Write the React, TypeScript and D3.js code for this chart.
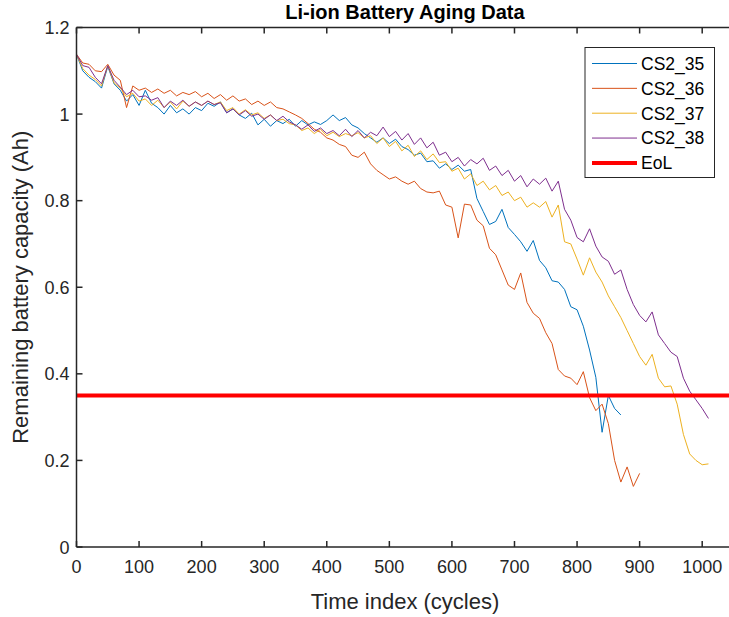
import React from 'react';
import * as d3 from 'd3';

const STEP = 10; // cycles between stored samples

const CS2_35 = [
  1.138, 1.100, 1.085, 1.075, 1.060, 1.110, 1.070, 1.055, 1.030, 1.045,
  1.020, 1.055, 1.025, 1.015, 1.000, 1.020, 1.003, 1.012, 1.000, 1.015,
  1.008, 1.025, 1.018, 1.028, 1.003, 1.012, 0.998, 0.990, 1.002, 0.975,
  0.988, 0.972, 0.985, 0.978, 0.988, 0.972, 0.985, 0.975, 0.982, 0.976,
  0.985, 0.998, 0.985, 0.992, 0.975, 0.968, 0.955, 0.945, 0.935, 0.945,
  0.932, 0.942, 0.925, 0.918, 0.905, 0.910, 0.890, 0.892, 0.875, 0.885,
  0.872, 0.882, 0.868, 0.872, 0.805, 0.775, 0.745, 0.752, 0.780, 0.738,
  0.722, 0.705, 0.683, 0.708, 0.662, 0.645, 0.615, 0.612, 0.595, 0.555,
  0.548, 0.510, 0.455, 0.392, 0.265, 0.350, 0.320, 0.305,
];

const CS2_36 = [
  1.138, 1.118, 1.115, 1.100, 1.098, 1.115, 1.090, 1.078, 1.015, 1.065,
  1.055, 1.060, 1.050, 1.058, 1.048, 1.055, 1.042, 1.050, 1.045, 1.052,
  1.040, 1.048, 1.036, 1.045, 1.032, 1.042, 1.030, 1.035, 1.022, 1.030,
  1.020, 1.028, 1.015, 1.012, 1.005, 0.998, 0.990, 0.978, 0.965, 0.958,
  0.945, 0.940, 0.930, 0.925, 0.905, 0.900, 0.912, 0.885, 0.870, 0.860,
  0.850, 0.855, 0.845, 0.838, 0.845, 0.828, 0.820, 0.818, 0.822, 0.790,
  0.785, 0.714, 0.792, 0.790, 0.755, 0.742, 0.690, 0.675, 0.640, 0.605,
  0.595, 0.633, 0.565, 0.540, 0.528, 0.495, 0.470, 0.410, 0.395, 0.390,
  0.375, 0.405, 0.345, 0.315, 0.330, 0.285, 0.200, 0.150, 0.185, 0.140,
  0.170,
];

const CS2_37 = [
  1.138, 1.105, 1.090, 1.080, 1.065, 1.112, 1.072, 1.060, 1.040, 1.048,
  1.030, 1.035, 1.020, 1.032, 1.015, 1.028, 1.012, 1.030, 1.018, 1.028,
  1.020, 1.030, 1.022, 1.028, 1.008, 1.015, 1.000, 1.010, 0.998, 1.003,
  0.990, 0.998, 0.985, 0.988, 0.978, 0.975, 0.962, 0.968, 0.955, 0.965,
  0.950, 0.958, 0.948, 0.955, 0.950, 0.957, 0.945, 0.950, 0.932, 0.945,
  0.925, 0.937, 0.915, 0.928, 0.902, 0.915, 0.895, 0.908, 0.888, 0.890,
  0.868, 0.875, 0.850, 0.862, 0.835, 0.845, 0.825, 0.835, 0.812, 0.820,
  0.800, 0.808, 0.785, 0.795, 0.785, 0.798, 0.762, 0.790, 0.705, 0.700,
  0.665, 0.628, 0.668, 0.635, 0.612, 0.580, 0.555, 0.530, 0.500, 0.470,
  0.440, 0.420, 0.445, 0.390, 0.370, 0.372, 0.330, 0.260, 0.215, 0.200,
  0.190, 0.192,
];

const CS2_38 = [
  1.138, 1.112, 1.108, 1.085, 1.070, 1.112, 1.078, 1.062, 1.045, 1.055,
  1.040, 1.042, 1.032, 1.038, 1.015, 1.030, 1.020, 1.032, 1.018, 1.028,
  1.020, 1.030, 1.022, 1.026, 1.003, 1.012, 0.998, 1.008, 0.995, 1.000,
  0.988, 0.998, 0.985, 0.995, 0.982, 0.975, 0.965, 0.975, 0.960, 0.968,
  0.955, 0.962, 0.950, 0.965, 0.948, 0.962, 0.945, 0.958, 0.950, 0.970,
  0.948, 0.960, 0.940, 0.955, 0.930, 0.945, 0.922, 0.935, 0.905, 0.912,
  0.890, 0.900, 0.880, 0.895, 0.885, 0.898, 0.870, 0.880, 0.858, 0.870,
  0.845, 0.858, 0.832, 0.850, 0.838, 0.852, 0.822, 0.845, 0.780, 0.755,
  0.715, 0.705, 0.735, 0.695, 0.670, 0.660, 0.630, 0.640, 0.595, 0.560,
  0.535, 0.520, 0.543, 0.490, 0.470, 0.450, 0.440, 0.390, 0.360, 0.340,
  0.320, 0.297,
];

const SERIES_NAMES = ['CS2_35', 'CS2_36', 'CS2_37', 'CS2_38'];
const SERIES_VALUES = [CS2_35, CS2_36, CS2_37, CS2_38];
const SERIES_COLORS = ['#0072BD', '#D95319', '#EDB120', '#7E2F8E'];
const EOL_VALUE = 0.35;
const EOL_NAME = 'EoL';
const X_TICKS = [0, 100, 200, 300, 400, 500, 600, 700, 800, 900, 1000];
const Y_TICKS = [0, 0.2, 0.4, 0.6, 0.8, 1, 1.2];
const X_DOMAIN = [0, 1050];
const Y_DOMAIN = [0, 1.2];

const TITLE = 'Li-ion Battery Aging Data';
const X_LABEL = 'Time index (cycles)';
const Y_LABEL = 'Remaining battery capacity (Ah)';

const FONT = '"Liberation Sans", Arial, Helvetica, sans-serif';
const AXIS_COLOR = '#262626';

export default function App() {
  const W = 729;
  const H = 617;
  const left = 76.5;
  const top = 27.5;
  const bottom = 547;
  const x = d3.scaleLinear().domain(X_DOMAIN).range([left, left + 1050 * 0.6257]);
  const y = d3.scaleLinear().domain(Y_DOMAIN).range([bottom, top]);
  const right = x(X_DOMAIN[1]);
  const cx = (left + right) / 2;

  const line = d3
    .line<number>()
    .x((_, i) => x(i * STEP))
    .y((d) => y(d));

  const tickLen = 6;
  const fmt = (v: number) => String(+v.toFixed(1));

  const legendX = 585;
  const legendY = 47.5;
  const legendW = 129.5;
  const legendH = 130;
  const rowH = 24.85;
  const legendItems = [
    ...SERIES_NAMES.map((n, i) => ({ name: n, color: SERIES_COLORS[i], width: 1 })),
    { name: EOL_NAME, color: '#FF0000', width: 4 },
  ];

  return (
    <svg
      width={W}
      height={H}
      viewBox={`0 0 ${W} ${H}`}
      style={{ position: 'absolute', left: 0, top: 0, background: '#fff', fontFamily: FONT }}
    >
      <rect x={0} y={0} width={W} height={H} fill="#fff" />

      {SERIES_VALUES.map((vals, i) => (
        <path
          key={SERIES_NAMES[i]}
          d={line(vals) || ''}
          fill="none"
          stroke={SERIES_COLORS[i]}
          strokeWidth={1}
          strokeLinejoin="round"
        />
      ))}

      <line
        x1={x(X_DOMAIN[0])}
        x2={right}
        y1={y(EOL_VALUE)}
        y2={y(EOL_VALUE)}
        stroke="#FF0000"
        strokeWidth={4}
      />

      <line x1={left} x2={left} y1={top} y2={bottom} stroke={AXIS_COLOR} strokeWidth={1.5} />
      <line x1={left} x2={right} y1={bottom} y2={bottom} stroke={AXIS_COLOR} strokeWidth={1.5} />
      <line x1={left} x2={right} y1={top} y2={top} stroke={AXIS_COLOR} strokeWidth={1.5} />

      {X_TICKS.map((t) => (
        <g key={'x' + t}>
          <line x1={x(t)} x2={x(t)} y1={bottom} y2={bottom - tickLen} stroke={AXIS_COLOR} strokeWidth={1.5} />
          <line x1={x(t)} x2={x(t)} y1={top} y2={top + tickLen} stroke={AXIS_COLOR} strokeWidth={1.5} />
          <text x={x(t)} y={bottom + 26} textAnchor="middle" fontSize={18} fill={AXIS_COLOR}>
            {t}
          </text>
        </g>
      ))}

      {Y_TICKS.map((t) => (
        <g key={'y' + t}>
          <line x1={left} x2={left + tickLen} y1={y(t)} y2={y(t)} stroke={AXIS_COLOR} strokeWidth={1.5} />
          <text x={left - 7} y={y(t) + 6.5} textAnchor="end" fontSize={18} fill={AXIS_COLOR}>
            {fmt(t)}
          </text>
        </g>
      ))}

      <text x={cx} y={19} textAnchor="middle" fontSize={20} fontWeight="bold" fill="#000">
        {TITLE}
      </text>
      <text x={cx} y={609} textAnchor="middle" fontSize={22} fill={AXIS_COLOR}>
        {X_LABEL}
      </text>
      <text
        transform={`translate(28, ${(top + bottom) / 2}) rotate(-90)`}
        textAnchor="middle"
        fontSize={22}
        fill={AXIS_COLOR}
      >
        {Y_LABEL}
      </text>

      <rect x={legendX} y={legendY} width={legendW} height={legendH} fill="#fff" stroke={AXIS_COLOR} strokeWidth={1} />
      {legendItems.map((it, i) => {
        const ry = legendY + 16 + i * rowH;
        return (
          <g key={it.name}>
            <line x1={592} x2={637} y1={ry} y2={ry} stroke={it.color} strokeWidth={it.width} />
            <text x={641} y={ry + 6.3} fontSize={17.5} fill="#000">
              {it.name}
            </text>
          </g>
        );
      })}
    </svg>
  );
}
